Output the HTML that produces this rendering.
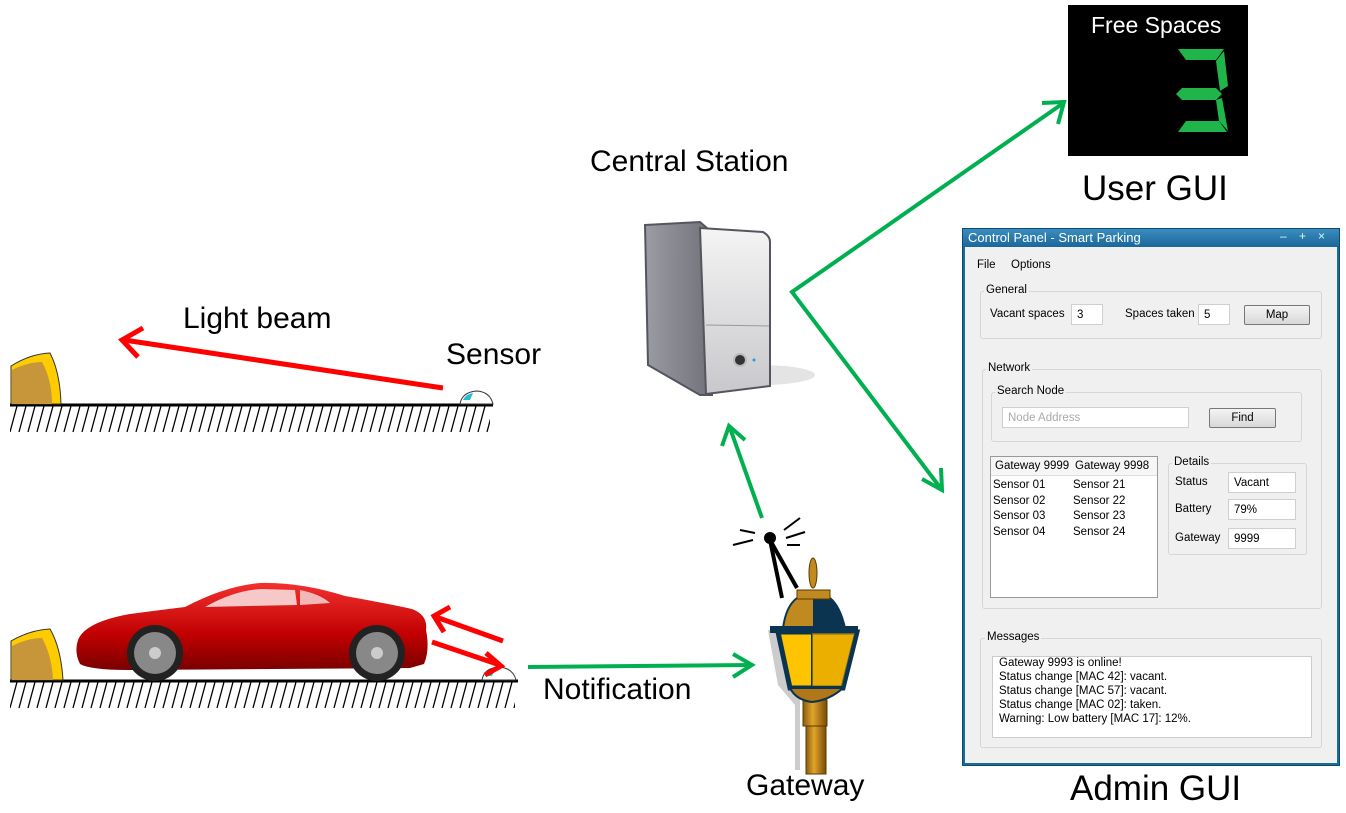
<!DOCTYPE html>
<html><head><meta charset="utf-8"><style>
body{margin:0;width:1346px;height:813px;background:#fff;position:relative;overflow:hidden;font-family:"Liberation Sans",Arial,sans-serif}
.t{position:absolute;color:#000;white-space:nowrap}
.w{position:absolute;font-size:11.5px;color:#000}
.gb{position:absolute;border:1px solid #d6d6d6;border-radius:3px}
.lg{position:absolute;background:#f0f0f0;padding:0 2px;font-size:11.5px}
.in{position:absolute;background:#fff;border:1px solid #cfcfcf;font-size:11.5px;padding:4px 5px 0;box-sizing:border-box}
.btn{position:absolute;background:linear-gradient(#f4f4f4,#d8d8d8);border:1px solid #777;border-radius:2px;font-size:11.5px;text-align:center;box-sizing:border-box}
</style></head><body>
<svg width="1346" height="813" style="position:absolute;left:0;top:0">
<defs>
<pattern id="h1" x="0" y="406" width="9" height="60" patternUnits="userSpaceOnUse"><line x1="8" y1="0" x2="1" y2="26" stroke="#000" stroke-width="1.3"/></pattern>
<pattern id="h2" x="0" y="682" width="9" height="60" patternUnits="userSpaceOnUse"><line x1="8" y1="0" x2="1" y2="26" stroke="#000" stroke-width="1.3"/></pattern>
<linearGradient id="sv" x1="0" x2="1"><stop offset="0" stop-color="#9c9ca4"/><stop offset="1" stop-color="#6e6e78"/></linearGradient>
<linearGradient id="sf" x1="0" y1="0" x2="0" y2="1"><stop offset="0" stop-color="#f4f4f4"/><stop offset="1" stop-color="#c8c8cc"/></linearGradient>
<linearGradient id="car" x1="0" y1="0" x2="0" y2="1"><stop offset="0" stop-color="#f23030"/><stop offset="0.6" stop-color="#c00000"/><stop offset="1" stop-color="#7a0000"/></linearGradient>
<linearGradient id="pole" x1="0" x2="1"><stop offset="0" stop-color="#8a5a10"/><stop offset="0.4" stop-color="#e0a52a"/><stop offset="1" stop-color="#7a4a08"/></linearGradient>
</defs>
<!-- top ground -->
<rect x="10" y="406" width="480" height="27" fill="url(#h1)"/>
<line x1="10" y1="405" x2="493" y2="405" stroke="#000" stroke-width="3"/>
<path d="M11 404 V366 Q30 354 50 353 Q60 372 61 404Z" fill="#ffcc00" stroke="#333"/>
<path d="M12 404 V370 Q28 362 42 362 Q52 380 52 404Z" fill="#c8963a"/>
<path d="M460 404 Q462 392 477 391 Q490 392 493 404Z" fill="#fff" stroke="#333"/>
<path d="M463 400 Q466 394 473 393 L470 400Z" fill="#20c0d0"/>
<!-- bottom ground -->
<rect x="10" y="682" width="505" height="27" fill="url(#h2)"/>
<line x1="10" y1="681" x2="518" y2="681" stroke="#000" stroke-width="3"/>
<path d="M11 680 V641 Q30 630 50 629 Q61 648 63 680Z" fill="#ffcc00" stroke="#333"/>
<path d="M12 680 V646 Q28 638 42 638 Q52 656 53 680Z" fill="#c8963a"/>
<path d="M482 680 Q484 668 499 667 Q513 668 516 680Z" fill="#fff" stroke="#333"/>
<path d="M485 676 Q488 670 495 669 L492 676Z" fill="#20c0d0"/>
<!-- car -->
<path d="M78 640 Q85 622 130 614 Q160 610 185 607 Q225 586 260 583 Q300 582 345 596 Q390 604 412 609 Q428 615 426 630 Q430 650 424 664 L410 668 L130 670 Q90 670 80 664 Q74 652 78 640Z" fill="url(#car)"/>
<path d="M205 607 Q235 590 262 589 L295 590 L297 605Z" fill="#f7c8c8"/>
<path d="M300 590 Q320 594 330 603 L300 605Z" fill="#f2b8b8"/>
<circle cx="155" cy="653" r="28" fill="#222"/><circle cx="155" cy="653" r="21" fill="#888"/><circle cx="155" cy="653" r="6" fill="#ccc"/>
<circle cx="377" cy="653" r="28" fill="#222"/><circle cx="377" cy="653" r="21" fill="#888"/><circle cx="377" cy="653" r="6" fill="#ccc"/>
<!-- red arrows -->
<g stroke="#ff0000" stroke-width="5" fill="none">
<line x1="443" y1="388" x2="124" y2="340"/><polyline points="143,328 122,340 138,357"/>
<line x1="503" y1="641" x2="436" y2="617"/><polyline points="450,607 434,616 444,632"/>
<line x1="432" y1="642" x2="500" y2="665"/><polyline points="486,653 501,666 485,675"/>
</g>
<!-- green arrows -->
<g stroke="#00b050" stroke-width="4" fill="none">
<polyline points="1062,104 792,292 942,490"/>
<polyline points="1042,103 1064,102 1058,124"/>
<polyline points="922,479 942,490 941,468"/>
<line x1="762" y1="518" x2="730" y2="428"/><polyline points="722,446 729,426 745,440"/>
<line x1="528" y1="667" x2="752" y2="665"/><polyline points="733,654 752,665 733,677"/>
</g>
<!-- server -->
<ellipse cx="760" cy="375" rx="55" ry="10" fill="#e4e4e4"/>
<path d="M645 225 L700 222 L715 235 L712 395 L700 395 L648 365Z" fill="url(#sv)" stroke="#55555e" stroke-width="2"/>
<path d="M700 228 L763 232 Q770 236 770 242 L770 386 L706 394Z" fill="url(#sf)" stroke="#55555e" stroke-width="2"/>
<line x1="706" y1="325" x2="769" y2="326" stroke="#999"/>
<circle cx="740" cy="360" r="6" fill="#333" stroke="#bbb" stroke-width="2"/><circle cx="754" cy="360" r="1.5" fill="#2a9ad8"/>
<!-- free spaces -->
<rect x="1068" y="5" width="180" height="151" fill="#000"/>
<g fill="#1fb54a">
<polygon points="1178,49 1224,49 1216,60 1186,60"/>
<polygon points="1224,51 1228,86 1220,91 1216,61"/>
<polygon points="1182,88 1216,88 1222,94 1216,100 1182,100 1176,94"/>
<polygon points="1222,98 1228,131 1219,121 1216,100"/>
<polygon points="1186,121 1219,121 1227,132 1178,132"/>
</g>
<!-- lamp -->
<path d="M768 630 L790 630 L800 700 L800 770 L795 770 L795 705 L778 685Z" fill="#ccc"/>
<rect x="806" y="720" width="20" height="54" fill="url(#pole)" stroke="#5a3a00"/>
<rect x="803" y="700" width="24" height="26" fill="url(#pole)" stroke="#5a3a00"/>
<path d="M778 632 L857 632 L843 688 L790 688Z" fill="#ffc400" stroke="#0a3450" stroke-width="5"/>
<line x1="812" y1="634" x2="812" y2="686" stroke="#0a3450" stroke-width="2"/>
<path d="M812 632 L855 632 L842 686 L812 686Z" fill="#d89a00" opacity="0.5"/>
<path d="M790 688 L843 688 Q830 700 812 702 Q796 700 790 688Z" fill="#b07818" stroke="#0a3450" stroke-width="2"/>
<path d="M783 628 Q786 606 797 598 L830 598 Q840 606 845 628Z" fill="#c08a20" stroke="#0a3450" stroke-width="2"/>
<path d="M813 598 L830 598 Q840 606 845 628 L813 628Z" fill="#0a3450"/>
<rect x="770" y="626" width="88" height="7" fill="#0a3450"/>
<rect x="797" y="590" width="33" height="9" fill="#c08a20" stroke="#5a3a00"/>
<ellipse cx="813" cy="573" rx="4" ry="15" fill="#c08a20" stroke="#5a3a00"/>
<!-- antenna -->
<g stroke="#000" stroke-width="4"><line x1="770" y1="540" x2="782" y2="598"/><line x1="770" y1="540" x2="797" y2="588"/></g>
<circle cx="770" cy="538" r="6" fill="#000"/>
<g stroke="#000" stroke-width="2"><line x1="740" y1="530" x2="755" y2="533"/><line x1="733" y1="545" x2="753" y2="540"/><line x1="784" y1="530" x2="800" y2="518"/><line x1="786" y1="538" x2="805" y2="532"/><line x1="787" y1="545" x2="800" y2="545"/></g>
</svg>
<div class="t" style="left:183px;top:302px;font-size:30px">Light beam</div>
<div class="t" style="left:446px;top:338px;font-size:30px">Sensor</div>
<div class="t" style="left:590px;top:145px;font-size:30px">Central Station</div>
<div class="t" style="left:543px;top:673px;font-size:30px">Notification</div>
<div class="t" style="left:746px;top:769px;font-size:30px">Gateway</div>
<div class="t" style="left:1082px;top:169px;font-size:35px">User GUI</div>
<div class="t" style="left:1070px;top:769px;font-size:35px">Admin GUI</div>
<div class="t" style="left:1091px;top:12px;font-size:23px;color:#fff">Free Spaces</div>
<!-- window -->
<div style="position:absolute;left:962px;top:228px;width:378px;height:538px;background:#1a6a9a;box-sizing:border-box;border:1px solid #0d4a70"></div>
<div style="position:absolute;left:965px;top:247px;width:372px;height:516px;background:#f0f0f0"></div>
<div style="position:absolute;left:963px;top:229px;width:376px;height:18px;background:linear-gradient(#3a8cc0,#1b679a)"></div>
<div class="t" style="left:968px;top:230px;font-size:13px;color:#fff">Control Panel - Smart Parking</div>
<div class="t" style="left:1280px;top:229px;font-size:12px;color:#cfe">–</div>
<div class="t" style="left:1299px;top:229px;font-size:12px;color:#cfe">+</div>
<div class="t" style="left:1318px;top:229px;font-size:12px;color:#cfe">×</div>
<div class="w" style="left:977px;top:259px">File</div>
<div class="w" style="left:1011px;top:259px">Options</div>
<div class="gb" style="left:980px;top:291px;width:340px;height:46px"></div>
<div class="lg" style="left:984px;top:284px">General</div>
<div class="w" style="left:990px;top:308px">Vacant spaces</div>
<div class="in" style="left:1071px;top:304px;width:32px;height:21px">3</div>
<div class="w" style="left:1125px;top:308px">Spaces taken</div>
<div class="in" style="left:1198px;top:304px;width:32px;height:21px">5</div>
<div class="btn" style="left:1244px;top:305px;width:66px;height:20px;line-height:18px">Map</div>
<div class="gb" style="left:982px;top:369px;width:338px;height:238px"></div>
<div class="lg" style="left:986px;top:362px">Network</div>
<div class="gb" style="left:991px;top:392px;width:309px;height:48px"></div>
<div class="lg" style="left:995px;top:385px">Search Node</div>
<div class="in" style="left:1002px;top:407px;width:187px;height:21px;color:#aaa">Node Address</div>
<div class="btn" style="left:1209px;top:408px;width:67px;height:20px;line-height:18px">Find</div>
<div style="position:absolute;left:990px;top:456px;width:168px;height:142px;background:#fff;border:1px solid #999;box-sizing:border-box"></div>
<div style="position:absolute;left:991px;top:457px;width:166px;height:18px;background:#f6f6f6;border-bottom:1px solid #ddd"></div>
<div class="w" style="left:995px;top:460px">Gateway 9999</div>
<div class="w" style="left:1075px;top:460px">Gateway 9998</div>
<div class="w" style="left:993px;top:478px;line-height:15.5px">Sensor 01<br>Sensor 02<br>Sensor 03<br>Sensor 04</div>
<div class="w" style="left:1073px;top:478px;line-height:15.5px">Sensor 21<br>Sensor 22<br>Sensor 23<br>Sensor 24</div>
<div class="gb" style="left:1168px;top:463px;width:137px;height:90px"></div>
<div class="lg" style="left:1172px;top:456px">Details</div>
<div class="w" style="left:1175px;top:476px">Status</div>
<div class="in" style="left:1228px;top:472px;width:68px;height:21px">Vacant</div>
<div class="w" style="left:1175px;top:503px">Battery</div>
<div class="in" style="left:1228px;top:499px;width:68px;height:21px">79%</div>
<div class="w" style="left:1175px;top:532px">Gateway</div>
<div class="in" style="left:1228px;top:528px;width:68px;height:21px">9999</div>
<div class="gb" style="left:980px;top:638px;width:340px;height:108px"></div>
<div class="lg" style="left:985px;top:631px">Messages</div>
<div style="position:absolute;left:992px;top:656px;width:320px;height:82px;background:#fff;border:1px solid #ccc;box-sizing:border-box"></div>
<div class="w" style="left:999px;top:656px;line-height:14px">Gateway 9993 is online!<br>Status change [MAC 42]: vacant.<br>Status change [MAC 57]: vacant.<br>Status change [MAC 02]: taken.<br>Warning: Low battery [MAC 17]: 12%.</div>
</body></html>
